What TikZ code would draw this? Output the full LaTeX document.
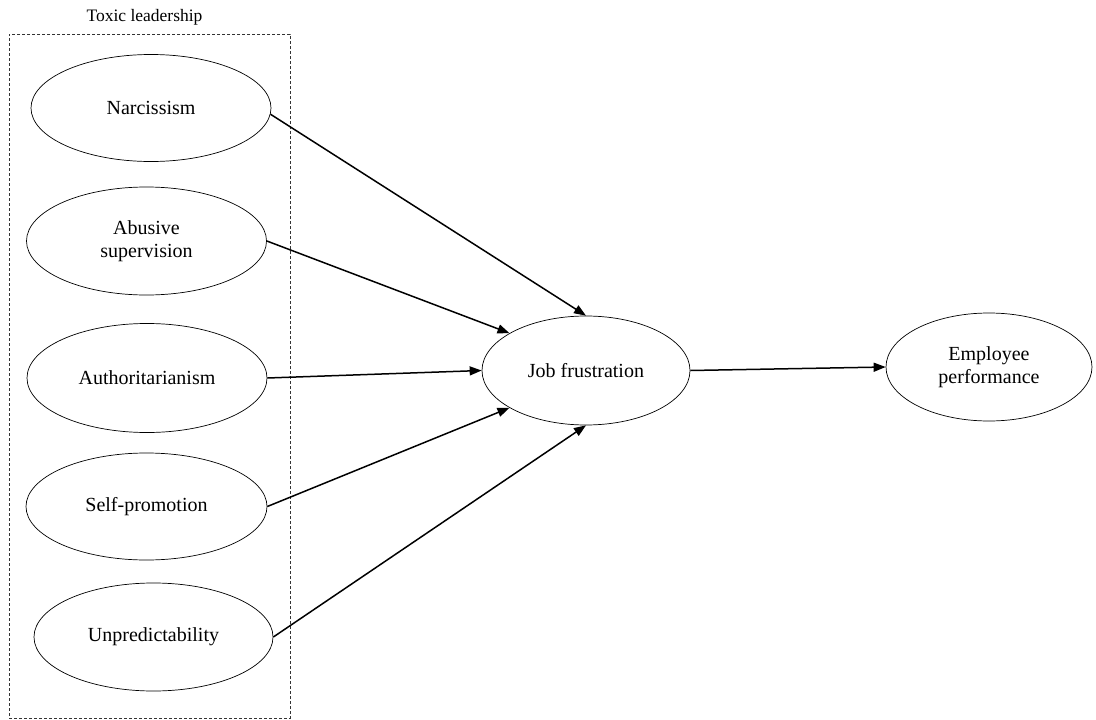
\documentclass[tikz,border=0pt]{standalone}
\usepackage{fontspec}
\setmainfont{Liberation Serif}
\usetikzlibrary{arrows.meta,shapes.geometric}
\begin{document}
\begin{tikzpicture}[x=1pt,y=-1pt,
  construct/.style={draw, ellipse, line width=0.7pt, inner sep=0pt, align=center,
    font=\fontsize{20}{23}\selectfont},
  path arrow/.style={line width=1.5pt, -{Triangle[length=12pt,width=9pt]}},
  group box/.style={draw=black!80, line width=0.6pt, dash pattern=on 3pt off 2pt}]
\useasboundingbox (0,0) rectangle (1096,720);
\node[group box, minimum width=281pt, minimum height=684pt, inner sep=0pt] (box) at (149.5,376) {};
\node[font=\fontsize{17.5}{20}\selectfont] (lbl) at (144.5,17) {Toxic leadership};
\node[construct, minimum width=240pt, minimum height=107pt] (narc) at (151,108) {Narcissism};
\node[construct, minimum width=240pt, minimum height=108pt] (abus) at (146.5,241) {Abusive\\supervision};
\node[construct, minimum width=240pt, minimum height=109pt] (auth) at (147,378) {Authoritarianism};
\node[construct, minimum width=241pt, minimum height=107pt] (self) at (146.5,506.5) {Self-promotion};
\node[construct, minimum width=239pt, minimum height=108pt] (unp) at (153.5,637) {Unpredictability};
\node[construct, minimum width=208pt, minimum height=109pt] (jf) at (586,370.5) {Job frustration};
\node[construct, minimum width=206pt, minimum height=108pt] (ep) at (989,367) {Employee\\performance};
\draw[path arrow] (narc.-3) -- (jf.north);
\draw[path arrow] (abus.east) -- (jf.154);
\draw[path arrow] (auth.east) -- (jf.west);
\draw[path arrow] (self.east) -- (jf.206);
\draw[path arrow] (unp.east) -- (jf.south);
\draw[path arrow] (jf.east) -- (ep.west);
\end{tikzpicture}
\end{document}
